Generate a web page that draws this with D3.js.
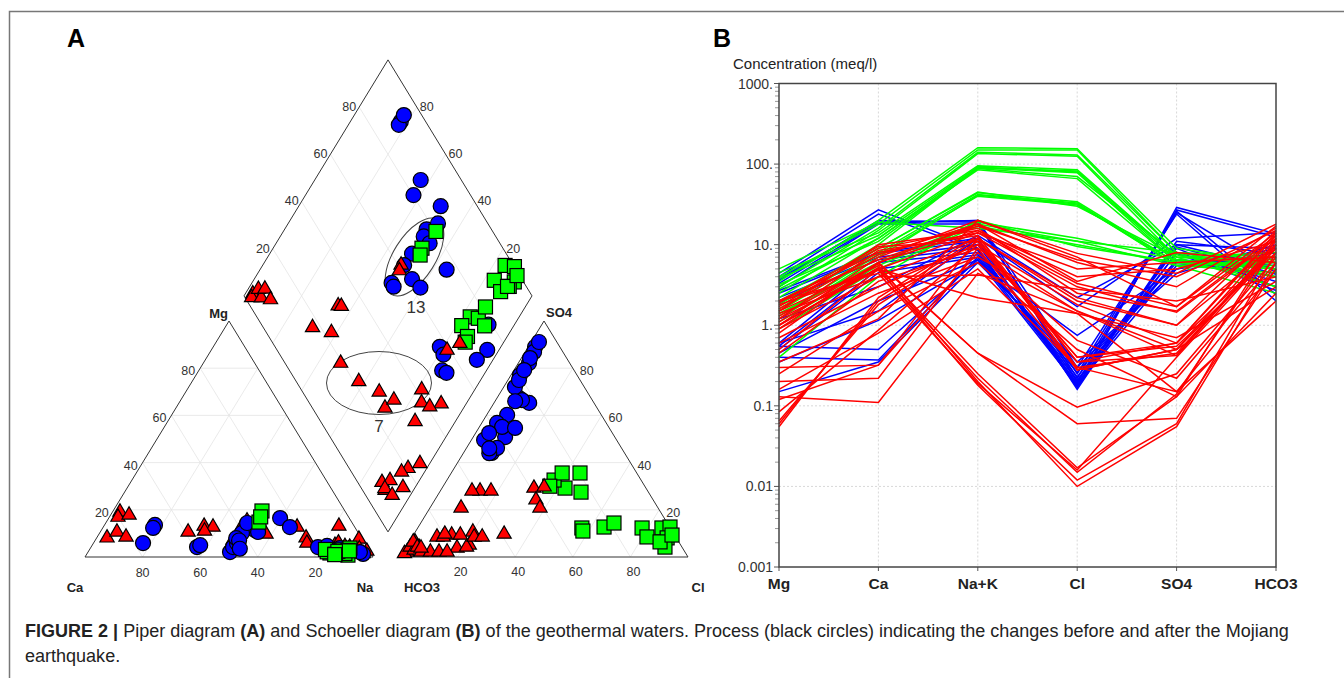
<!DOCTYPE html>
<html>
<head>
<meta charset="utf-8">
<script src="https://cdn.jsdelivr.net/npm/d3@7"></script>
<style>
  body { margin: 0; background: #fff; }
  svg { display: block; font-family: "Liberation Sans", Arial, sans-serif; }
</style>
</head>
<body>
<svg id="fig" width="1344" height="678"></svg>
<script>
// ---------------- data ----------------
var ions = ["Mg", "Ca", "Na+K", "Cl", "SO4", "HCO3"];
var yTickValues = [1000, 100, 10, 1, 0.1, 0.01, 0.001];
var yTickLabels = ["1000.", "100.", "10.", "1.", "0.1", "0.01", "0.001"];
var piperTicks = [20, 40, 60, 80];

// Schoeller: meq/l for [Mg, Ca, Na+K, Cl, SO4, HCO3]
var blueLines = [
  [4.4, 27, 9, 0.17, 29, 13.6], [4.0, 24, 8.5, 0.19, 27, 12.4], [3.6, 20, 19, 0.22, 25, 4.5],
  [3.3, 18.5, 20, 0.3, 24, 2.0], [3.0, 18, 18, 0.25, 26, 2.4], [2.7, 8, 12, 0.16, 11, 7.7],
  [2.5, 7.8, 11, 0.18, 10, 5], [2.2, 7, 10, 0.2, 9.4, 4.3], [1.9, 6.5, 9, 0.17, 8, 3.5],
  [0.6, 6, 8, 0.21, 7.8, 2.7], [0.55, 5, 7.5, 0.23, 6.5, 5.5], [0.5, 4.5, 7, 0.26, 6, 6],
  [0.45, 2, 6.5, 0.3, 5, 8], [0.35, 1.15, 6, 0.35, 4.4, 10], [0.15, 0.35, 6, 0.75, 5, 9],
  [0.6, 1.5, 12, 1.7, 12, 14], [1.2, 3, 13, 2.2, 10, 9], [0.55, 0.5, 6.5, 0.18, 5.5, 7],
  [3.8, 19, 20, 0.2, 9, 3], [0.4, 0.37, 7, 0.19, 6.5, 4]
];
var greenLines = [
  [3.5, 20, 160, 155, 9, 6], [4.0, 18, 150, 150, 8, 5], [3.0, 16, 140, 130, 8, 7],
  [2.5, 15, 135, 125, 7, 6], [4.5, 14, 95, 85, 7, 6.5], [3.8, 13, 92, 80, 6.5, 5],
  [2.2, 12, 90, 78, 6, 7], [3.2, 11, 88, 70, 7.5, 4], [2.8, 12, 85, 66, 6, 5.5],
  [1.8, 10, 90, 82, 7, 8], [2.0, 9, 44, 34, 6, 5], [1.5, 8, 42, 33, 5.5, 4.5],
  [1.3, 7.5, 40, 31, 6, 6], [1.6, 9, 45, 30, 7, 3], [1.2, 7, 41, 32, 5.5, 2.5],
  [1.4, 6, 19, 12, 6.5, 5], [1.1, 5.5, 18, 11, 5.5, 6], [0.9, 5, 17, 10, 6, 7],
  [0.4, 4, 20, 9.5, 6, 4], [5.0, 19, 16, 11, 8, 3]
];
var redLines = [
  [1.5, 5.5, 0.20, 0.010, 0.055, 6], [1.2, 5.0, 0.18, 0.012, 0.06, 8], [1.8, 4.8, 0.22, 0.015, 0.14, 10],
  [1.0, 5.2, 0.25, 0.017, 0.13, 12], [2.0, 4.4, 0.19, 0.016, 0.40, 9], [0.9, 6.0, 0.45, 0.06, 0.07, 5],
  [1.3, 5.8, 0.45, 0.096, 0.25, 7], [0.06, 2.0, 12, 0.30, 0.45, 10], [0.055, 2.2, 13, 0.28, 0.50, 12],
  [0.065, 1.8, 11, 0.35, 0.60, 14], [0.084, 0.87, 10, 0.40, 0.55, 8], [0.12, 0.32, 8, 0.65, 0.22, 6],
  [0.13, 0.11, 4.4, 1.4, 0.15, 5], [0.20, 0.22, 9, 1.5, 0.42, 11], [0.30, 0.32, 12, 2.0, 1.0, 15],
  [1.0, 7, 20, 7.8, 4.4, 18], [0.8, 6, 18, 6, 3, 16], [1.5, 10, 15, 3.3, 1.7, 14],
  [2.0, 8, 14, 3.0, 1.45, 12], [1.7, 9, 16, 2.5, 1.5, 13], [0.9, 4, 12, 2.2, 1.0, 10],
  [0.7, 3, 10, 1.8, 0.6, 9], [1.1, 6, 15, 4, 5, 11], [0.5, 5, 14, 5, 6, 7],
  [1.6, 7.5, 18, 3.5, 8, 6], [1.4, 4, 4.2, 2.8, 2.0, 4], [0.6, 2.5, 7, 1.5, 0.5, 3],
  [0.25, 1.5, 6, 0.5, 0.13, 2.5], [0.16, 0.8, 5, 0.3, 0.15, 2], [1.9, 9.5, 11, 0.4, 0.6, 13],
  [1.2, 8.5, 13, 0.35, 0.42, 10], [0.45, 3.5, 9, 0.28, 0.5, 9], [2.0, 6.5, 17, 6.5, 4, 15],
  [0.35, 1.2, 20, 7, 1.7, 17], [1.0, 5, 2.2, 1.4, 0.7, 3.5]
];

// Piper: % of [Mg, Na+K] (Ca is the rest) and [SO4, Cl] (HCO3 is the rest)
var bluePiper = [
  [13.6, 17.5, 89, 2.4], [12.3, 17.5, 86.9, 3.1], [5.9, 17.2, 91.1, 2.7], [4.2, 36.8, 82.2, 3.7],
  [5.0, 37.5, 77.1, 3.1], [2.1, 49.3, 84.3, 3.0], [4.2, 49.3, 65.3, 12.2], [5.9, 49.8, 67.4, 7.6],
  [11.4, 53.3, 66.5, 9.1], [10.2, 49.4, 60.2, 7.1], [14.4, 49.1, 56.8, 5.3], [10.6, 54.8, 50.8, 11.1],
  [8.0, 48.5, 49.6, 4.4], [7.0, 50.0, 44.1, 9.8], [16.5, 59.5, 55.1, 7.9], [12.7, 64.8, 72.0, 3.9],
  [4.2, 78.8, 52.5, 4.7], [1.3, 95.9, 66.0, 7.0], [4.7, 81.7, 46.2, 10.6], [3.0, 84.6, 44.0, 9.0],
  [3.8, 86.6, 46.0, 8.0], [2.1, 91.0, 75.0, 3.8], [2.1, 94.4, 54.7, 12.6], [3.5, 52.0, 79.2, 3.5]
];
var greenPiper = [
  [14.8, 53.0, 35.6, 44.7], [19.5, 51.7, 29.2, 42.7], [17.0, 52.5, 32.6, 37.2], [1.7, 84.2, 12.3, 84.8],
  [3.0, 87.7, 12.7, 87.4], [0.8, 90.9, 8.1, 88.7], [3.8, 90.1, 4.2, 89.9], [2.5, 83.6, 12.3, 77.9],
  [2.0, 88.2, 8.5, 81.5], [1.5, 89.5, 6.4, 87.1], [2.2, 83.0, 35.6, 38.5], [1.8, 86.1, 27.5, 49.1],
  [2.8, 89.9, 12.7, 64.5], [3.2, 81.9, 12.3, 57.0], [1.2, 86.2, 11.0, 58.0], [2.4, 86.6, 30.0, 37.0],
  [1.0, 86.2, 14.4, 67.1], [2.6, 90.5, 9.3, 89.8]
];
var redPiper = [
  [19.1, 2.6, 2.1, 1.4], [16.9, 3.0, 1.5, 0.8], [17.8, 6.4, 4.2, 1.4], [8.1, 3.6, 3.0, 3.4],
  [10.6, 5.8, 4.2, 4.5], [8.5, 10.0, 6.4, 2.0], [10.6, 30.5, 8.5, 8.6], [13.1, 34.8, 10.6, 20.0],
  [12.7, 38.1, 9.3, 13.3], [7.2, 47.8, 8.5, 10.8], [12.3, 48.0, 29.2, 31.9], [15.3, 48.6, 24.2, 35.1],
  [9.7, 58.0, 3.8, 17.9], [12.7, 67.3, 5.1, 21.5], [8.1, 72.7, 4.2, 21.0], [5.9, 74.1, 8.5, 21.5],
  [13.1, 81.6, 28.0, 13.8], [4.0, 82.0, 20.8, 38.2], [5.0, 84.3, 28.0, 11.0], [7.6, 91.3, 28.0, 17.6],
  [3.0, 87.4, 2.1, 6.3], [2.0, 90.2, 6.4, 1.4], [3.5, 93.5, 9.7, 10.7], [2.5, 96.6, 9.3, 16.3],
  [4.2, 89.8, 2.1, 9.5], [1.5, 95.8, 2.1, 12.5], [2.8, 89.7, 4.2, 3.9], [1.8, 93.7, 3.8, 5.4],
  [6.0, 85.0, 29.7, 35.2], [11.0, 36.0, 20.8, 10.8], [4.5, 88.0, 9.7, 31.3], [3.0, 86.0, 8.5, 24.3],
  [2.5, 92.0, 2.1, 15.3]
];

var colBlue = "#0000ff", colGreen = "#00ff00", colRed = "#ff0000";

var svg = d3.select("#fig");

// page frame
svg.append("path")
  .attr("d", "M9.5,678 V11.5 H1344")
  .attr("fill", "none").attr("stroke", "#777").attr("stroke-width", 1.5);

// panel letters
svg.append("text").attr("x", 67).attr("y", 47).attr("font-size", 25).attr("font-weight", "bold").text("A");
svg.append("text").attr("x", 713).attr("y", 47).attr("font-size", 25).attr("font-weight", "bold").text("B");

// ---------------- Schoeller diagram (B) ----------------
var sch = {left: 779, right: 1276, top: 83.5, bottom: 567};
var xSch = d3.scalePoint().domain(ions).range([sch.left, sch.right]);
var ySch = d3.scaleLog().domain([0.001, 1000]).range([sch.bottom, sch.top]);
var gB = svg.append("g");

// grid
gB.selectAll(".vgrid").data(ions.slice(1, 5)).enter().append("line")
  .attr("x1", d => xSch(d)).attr("x2", d => xSch(d))
  .attr("y1", sch.top).attr("y2", sch.bottom)
  .attr("stroke", "#d8d8d8").attr("stroke-dasharray", "2,2");
gB.selectAll(".hgrid").data(yTickValues.slice(1, 6)).enter().append("line")
  .attr("x1", sch.left).attr("x2", sch.right)
  .attr("y1", d => ySch(d)).attr("y2", d => ySch(d))
  .attr("stroke", "#d8d8d8").attr("stroke-dasharray", "2,2");

// minor ticks on the log axis
var minorTicks = ySch.ticks().filter(d => yTickValues.indexOf(d) < 0);
gB.selectAll(".minor").data(minorTicks).enter().append("line")
  .attr("x1", sch.left - 4).attr("x2", sch.left)
  .attr("y1", d => ySch(d)).attr("y2", d => ySch(d))
  .attr("stroke", "#999");
gB.selectAll(".major").data(yTickValues).enter().append("line")
  .attr("x1", sch.left - 5).attr("x2", sch.left)
  .attr("y1", d => ySch(d)).attr("y2", d => ySch(d))
  .attr("stroke", "#555");
gB.selectAll(".ylab").data(yTickValues).enter().append("text")
  .attr("x", sch.left - 6).attr("y", d => ySch(d) + 5)
  .attr("text-anchor", "end").attr("font-size", 14).attr("fill", "#333")
  .text((d, i) => yTickLabels[i]);
gB.selectAll(".xtick").data(ions).enter().append("line")
  .attr("x1", d => xSch(d)).attr("x2", d => xSch(d))
  .attr("y1", sch.bottom).attr("y2", sch.bottom + 4)
  .attr("stroke", "#555");
gB.selectAll(".xlab").data(ions).enter().append("text")
  .attr("x", d => xSch(d)).attr("y", 589)
  .attr("text-anchor", "middle").attr("font-size", 15.5).attr("font-weight", "bold").attr("fill", "#222")
  .text(d => d);
gB.append("text").attr("x", 733).attr("y", 69).attr("font-size", 15).attr("fill", "#222")
  .text("Concentration (meq/l)");

var lineGen = d3.line().x((d, i) => xSch(ions[i])).y(d => ySch(d));
[[blueLines, colBlue], [greenLines, colGreen], [redLines, colRed]].forEach(function (grp) {
  gB.append("g").selectAll("path").data(grp[0]).enter().append("path")
    .attr("d", lineGen)
    .attr("fill", "none").attr("stroke", grp[1]).attr("stroke-width", 1.5);
});

// plot box
gB.append("rect")
  .attr("x", sch.left).attr("y", sch.top)
  .attr("width", sch.right - sch.left).attr("height", sch.bottom - sch.top)
  .attr("fill", "none").attr("stroke", "#444").attr("stroke-width", 1.5);

// ---------------- Piper diagram (A) ----------------
var piper = {x0: 85, ax0: 400, base: 557, side: 288, h: 236, dx: 1.5, dy: -3};
var sx = d3.scaleLinear().domain([0, 100]).range([0, piper.side]);
var sy = d3.scaleLinear().domain([0, 100]).range([piper.base, piper.base - piper.h]);
var gapU = (piper.ax0 - piper.x0 - piper.side) / piper.side * 100;

function catPt(mg, na) { return [piper.x0 + sx(na + mg / 2), sy(mg)]; }
function anPt(so4, cl) { return [piper.ax0 + sx(cl + so4 / 2), sy(so4)]; }
function diaPt(na, a) {
  var c1 = na, c2 = 100 + gapU + a;
  return [piper.x0 + sx((c1 + c2) / 2) + piper.dx, sy(c2 - c1) + piper.dy];
}

var gA = svg.append("g");
var gridCol = "#e4e4e4";

function seg(p, q, col, w) {
  gA.append("line").attr("x1", p[0]).attr("y1", p[1]).attr("x2", q[0]).attr("y2", q[1])
    .attr("stroke", col).attr("stroke-width", w);
}

// grids
piperTicks.forEach(function (v) {
  seg(catPt(v, 0), catPt(v, 100 - v), gridCol, 0.8);
  seg(catPt(0, v), catPt(100 - v, v), gridCol, 0.8);
  seg(catPt(0, 100 - v), catPt(100 - v, 0), gridCol, 0.8);
  seg(anPt(v, 0), anPt(v, 100 - v), gridCol, 0.8);
  seg(anPt(0, v), anPt(100 - v, v), gridCol, 0.8);
  seg(anPt(0, 100 - v), anPt(100 - v, 0), gridCol, 0.8);
  seg(diaPt(v, 0), diaPt(v, 100), gridCol, 0.8);
  seg(diaPt(0, v), diaPt(100, v), gridCol, 0.8);
});

// outlines
var outline = d3.line().x(d => d[0]).y(d => d[1]).curve(d3.curveLinearClosed);
[[catPt(0, 0), catPt(0, 100), catPt(100, 0)],
 [anPt(0, 0), anPt(0, 100), anPt(100, 0)],
 [diaPt(0, 0), diaPt(0, 100), diaPt(100, 100), diaPt(100, 0)]].forEach(function (poly) {
  gA.append("path").attr("d", outline(poly)).attr("fill", "none").attr("stroke", "#333").attr("stroke-width", 1);
});

// tick labels
function tickLab(p, dx, dy, anchor, t) {
  gA.append("text").attr("x", p[0] + dx).attr("y", p[1] + dy).attr("text-anchor", anchor)
    .attr("font-size", 12.5).attr("fill", "#333").text(t);
}
piperTicks.forEach(function (v) {
  tickLab(catPt(0, 100 - v), 0, 20, "middle", v);      // Ca
  tickLab(catPt(v, 0), -5, 7, "end", v);                // Mg
  tickLab(anPt(0, v), 3, 19, "middle", v);              // Cl
  tickLab(anPt(v, 100 - v), 7, 7, "start", v);          // SO4
  tickLab(diaPt(0, v), -3, 4, "end", v);                // SO4+Cl
  tickLab(diaPt(100 - v, 100), 3, 4, "start", v);       // Ca+Mg
});

// vertex labels
function vLab(x, y, anchor, t) {
  gA.append("text").attr("x", x).attr("y", y).attr("text-anchor", anchor)
    .attr("font-size", 13).attr("font-weight", "bold").attr("fill", "#222").text(t);
}
var pMg = catPt(100, 0), pSO4 = anPt(100, 0), pCa = catPt(0, 0), pNa = catPt(0, 100),
    pHC = anPt(0, 0), pCl = anPt(0, 100);
vLab(pMg[0] - 1, 318, "end", "Mg");
vLab(pSO4[0] + 2, 317, "start", "SO4");
vLab(pCa[0] - 10, 592, "middle", "Ca");
vLab(pNa[0] - 8, 592, "middle", "Na");
vLab(pHC[0] + 22, 592, "middle", "HCO3");
vLab(pCl[0] + 10, 592, "middle", "Cl");

// process ellipses
gA.append("ellipse").attr("cx", 0).attr("cy", 0).attr("rx", 44).attr("ry", 21)
  .attr("transform", "translate(414.5,257) rotate(-58)")
  .attr("fill", "none").attr("stroke", "#444").attr("stroke-width", 1);
gA.append("ellipse").attr("cx", 379).attr("cy", 383).attr("rx", 52.5).attr("ry", 31.5)
  .attr("fill", "none").attr("stroke", "#444").attr("stroke-width", 1);
gA.append("text").attr("x", 416).attr("y", 313).attr("text-anchor", "middle")
  .attr("font-size", 17).attr("fill", "#333").text("13");
gA.append("text").attr("x", 379).attr("y", 432).attr("text-anchor", "middle")
  .attr("font-size", 17).attr("fill", "#333").text("7");

// sample markers: field 0 = cations, 1 = anions, 2 = diamond
function positions(rows, field) {
  return rows.map(function (r) {
    if (field === 0) return catPt(r[0], r[1]);
    if (field === 1) return anPt(r[2], r[3]);
    return diaPt(r[1], r[2] + r[3]);
  });
}

var tri = d3.symbol().type(d3.symbolTriangle).size(88);
var marker = {
  blue: function (g, pts) {
    g.append("g").selectAll("circle").data(pts).enter().append("circle")
      .attr("cx", d => d[0]).attr("cy", d => d[1]).attr("r", 7.5)
      .attr("fill", colBlue).attr("stroke", "#000").attr("stroke-width", 1.2);
  },
  green: function (g, pts) {
    g.append("g").selectAll("rect").data(pts).enter().append("rect")
      .attr("x", d => d[0] - 7).attr("y", d => d[1] - 7).attr("width", 14).attr("height", 14)
      .attr("fill", colGreen).attr("stroke", "#000").attr("stroke-width", 1.2);
  },
  red: function (g, pts) {
    g.append("g").selectAll("path").data(pts).enter().append("path")
      .attr("d", tri).attr("transform", d => "translate(" + d[0] + "," + d[1] + ")")
      .attr("fill", colRed).attr("stroke", "#000").attr("stroke-width", 1.2);
  }
};
var rows = {blue: bluePiper, green: greenPiper, red: redPiper};

// cation field: triangles lie under the Na-rich circles and squares
["red", "blue", "green"].forEach(k => marker[k](gA, positions(rows[k], 0)));
[1, 2].forEach(function (f) {
  ["blue", "green", "red"].forEach(k => marker[k](gA, positions(rows[k], f)));
});

// ---------------- caption ----------------
var capParts = [
  ["FIGURE 2 | ", "bold"], ["Piper diagram ", "normal"], ["(A)", "bold"],
  [" and Schoeller diagram ", "normal"], ["(B)", "bold"],
  [" of the geothermal waters. Process (black circles) indicating the changes before and after the Mojiang", "normal"]
];
var cap = svg.append("text").attr("x", 25).attr("y", 637).attr("font-size", 16).attr("fill", "#222");
cap.selectAll("tspan").data(capParts).enter().append("tspan")
  .attr("font-weight", d => d[1]).text(d => d[0]);
var cap2 = svg.append("text").attr("x", 25).attr("y", 662).attr("font-size", 16).attr("fill", "#222")
  .text("earthquake.");
// fit first caption line to its width in the reference
var w = cap.node().getComputedTextLength();
var fs = 16 * 1265 / w;
cap.attr("font-size", fs);
cap2.attr("font-size", fs);
</script>
</body>
</html>
